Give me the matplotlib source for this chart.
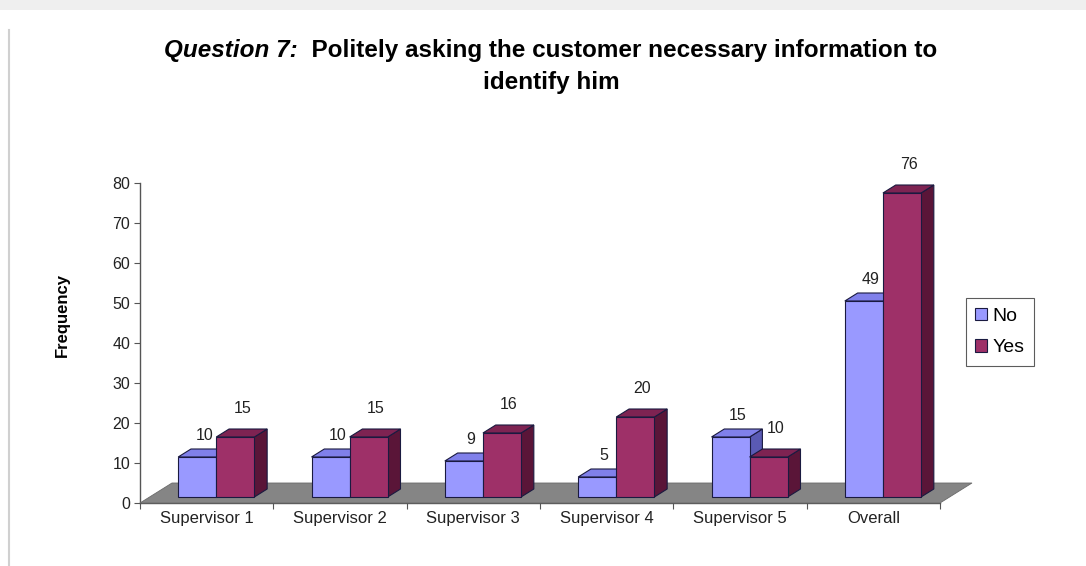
import matplotlib
matplotlib.use("Agg")
import matplotlib.pyplot as plt
from matplotlib.patches import Polygon, Rectangle, Patch
from matplotlib.lines import Line2D
import numpy as np

plt.rcParams['font.family'] = ['Liberation Sans', 'DejaVu Sans']

categories = ["Supervisor 1", "Supervisor 2", "Supervisor 3", "Supervisor 4", "Supervisor 5", "Overall"]
series_names = ["No", "Yes"]
no_values = [10, 10, 9, 5, 15, 49]
yes_values = [15, 15, 16, 20, 10, 76]
y_ticks = [0, 10, 20, 30, 40, 50, 60, 70, 80]

# face colours per series: front, top, side
faces = {
    "No": ("#9999FF", "#8080EA", "#5A5AB4"),
    "Yes": ("#9E3068", "#7E2352", "#5A1538"),
}
edge = "#1a1a40"

W, H, DPI = 1086, 566, 100
fig = plt.figure(figsize=(W / DPI, H / DPI), dpi=DPI)
fig.patch.set_facecolor("white")

# light frame around the chart area
fig.add_artist(Rectangle((0, 1 - 10 / H), 1, 10 / H, transform=fig.transFigure,
                         facecolor="#efefef", edgecolor="none", zorder=0))
fig.add_artist(Line2D([9 / W, 9 / W], [0, 1 - 30 / H], transform=fig.transFigure,
                      color="#d0d0d0", lw=1.5))

ax_l, ax_r, ax_b, ax_t = 140, 940, 503, 183
ax = fig.add_axes([ax_l / W, 1 - ax_b / H, (ax_r - ax_l) / W, (ax_b - ax_t) / H])
ax.set_xlim(0, len(categories))
ax.set_ylim(0, 80)
ax.set_facecolor("none")

# oblique depth vector (full floor depth) in data units
px_x = (ax_r - ax_l) / len(categories)
px_y = (ax_b - ax_t) / 80.0
depth_dx = 32 / px_x
depth_dy = 20 / px_y
f0, f1 = 0.3, 0.7
bar_w = 1 / 3.5

# floor
n = len(categories)
floor = Polygon([(0, 0), (n, 0), (n + depth_dx, depth_dy), (depth_dx, depth_dy)],
                closed=True, facecolor="#858585", edgecolor="#6a6a6a", lw=0.6,
                clip_on=False, zorder=1)
ax.add_patch(floor)


def draw_bar(x0, value, cols, z):
    x1 = x0 + bar_w
    ox0, oy0 = f0 * depth_dx, f0 * depth_dy
    ox1, oy1 = f1 * depth_dx, f1 * depth_dy
    front = [(x0 + ox0, oy0), (x1 + ox0, oy0), (x1 + ox0, oy0 + value), (x0 + ox0, oy0 + value)]
    top = [(x0 + ox0, oy0 + value), (x1 + ox0, oy0 + value),
           (x1 + ox1, oy1 + value), (x0 + ox1, oy1 + value)]
    side = [(x1 + ox0, oy0), (x1 + ox1, oy1), (x1 + ox1, oy1 + value), (x1 + ox0, oy0 + value)]
    for pts, c in ((side, cols[2]), (top, cols[1]), (front, cols[0])):
        ax.add_patch(Polygon(pts, closed=True, facecolor=c, edgecolor=edge,
                             lw=0.8, clip_on=False, zorder=z))
    return x0 + ox0 + bar_w / 2, oy1 + value


z = 2
for i in range(n):
    center = i + 0.5
    for j, (name, vals) in enumerate(zip(series_names, (no_values, yes_values))):
        x0 = center - bar_w + j * bar_w
        cx, ty = draw_bar(x0, vals[i], faces[name], z)
        z += 1
        dy_pt = 9.5 if name == "No" else 14.5
        ax.annotate(str(vals[i]), (cx, ty), xytext=(5, dy_pt), textcoords="offset points",
                    ha="center", va="center", fontsize=11.5, color="#222222",
                    annotation_clip=False, zorder=50)

# axes styling
for s in ("top", "right"):
    ax.spines[s].set_visible(False)
for s in ("left", "bottom"):
    ax.spines[s].set_color("#555555")
    ax.spines[s].set_linewidth(1.0)
    ax.spines[s].set_zorder(0.5)

ax.set_yticks(y_ticks)
ax.set_yticklabels([str(t) for t in y_ticks], fontsize=11.5, color="#222222")
ax.tick_params(axis="y", direction="out", length=4, color="#555555", pad=3)

ax.set_xticks(np.arange(n + 1))
ax.set_xticklabels([""] * (n + 1))
ax.tick_params(axis="x", which="major", direction="out", length=4, color="#555555")
ax.set_xticks(np.arange(n) + 0.5, minor=True)
ax.set_xticklabels(categories, minor=True, fontsize=12, color="#222222")
ax.tick_params(axis="x", which="minor", length=0, pad=6)

fig.text(62 / W, 1 - 315 / H, "Frequency", rotation=90, ha="center", va="center",
         fontsize=12, fontweight="bold")

# title: italic lead-in followed by bold text, centred as one line
title_size = 17.5
t1 = fig.text(0, 1 - 51 / H, "Question 7:", ha="left", va="center",
              fontsize=title_size, fontweight="bold", fontstyle="italic")
t2 = fig.text(0, 1 - 51 / H, "  Politely asking the customer necessary information to",
              ha="left", va="center", fontsize=title_size, fontweight="bold")
renderer = fig.canvas.get_renderer()
w1 = t1.get_window_extent(renderer).width
w2 = t2.get_window_extent(renderer).width
start = 551 - (w1 + w2) / 2
t1.set_x(start / W)
t2.set_x((start + w1) / W)
fig.text(551 / W, 1 - 82 / H, "identify him", ha="center", va="center",
         fontsize=title_size, fontweight="bold")

# legend
handles = [Patch(facecolor=faces[nm][0], edgecolor=edge, lw=0.8) for nm in series_names]
leg = fig.legend(handles, series_names, loc="center", bbox_to_anchor=(1000 / W, 1 - 332 / H),
                 fontsize=14, frameon=True, fancybox=False, edgecolor="#333333",
                 handlelength=0.6, handleheight=0.6, handletextpad=0.3,
                 borderpad=0.5, labelspacing=0.75, borderaxespad=0)
leg.get_frame().set_linewidth(0.8)

fig.savefig("out.png", dpi=DPI)
